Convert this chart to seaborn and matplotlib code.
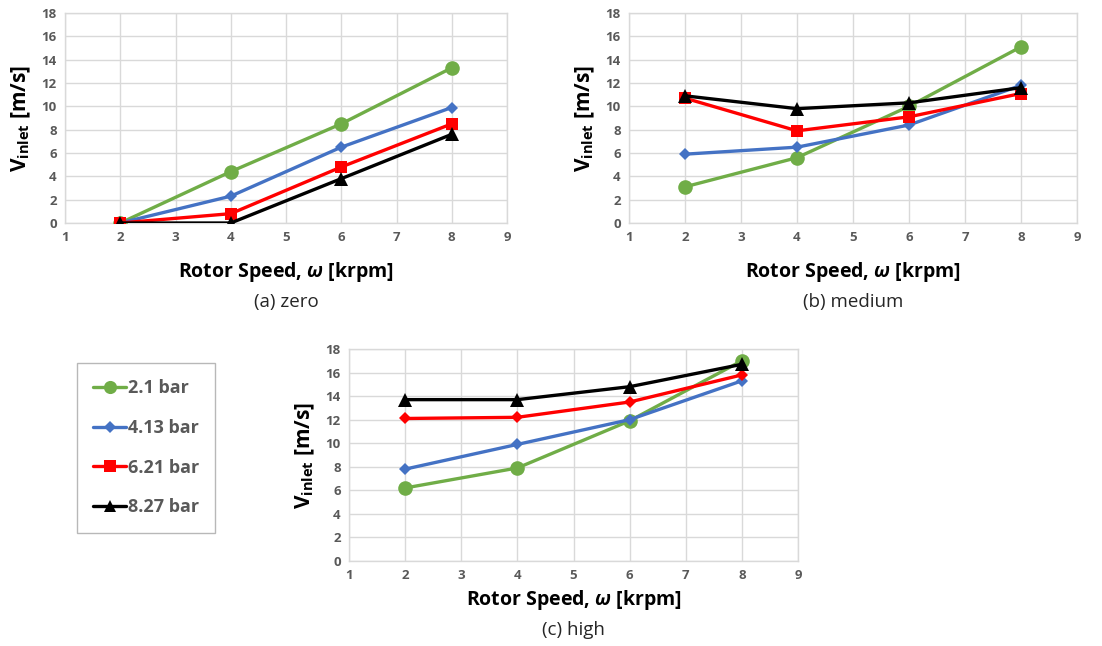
import matplotlib
matplotlib.use("Agg")
import matplotlib.pyplot as plt
import seaborn as sns
import pandas as pd
from matplotlib.lines import Line2D

sns.set_theme(style="white")
plt.rcParams['font.family'] = ['Open Sans', 'DejaVu Sans']
plt.rcParams['mathtext.fontset'] = 'custom'
plt.rcParams['mathtext.rm'] = 'Open Sans'
plt.rcParams['mathtext.bf'] = 'Open Sans:bold'
plt.rcParams['mathtext.it'] = 'Open Sans:italic'
plt.rcParams['mathtext.bfit'] = 'Open Sans:italic:bold'

speeds = [2, 4, 6, 8]
series_labels = ["2.1 bar", "4.13 bar", "6.21 bar", "8.27 bar"]

zero_21 = [0.0, 4.4, 8.5, 13.3]
zero_413 = [0.0, 2.3, 6.5, 9.9]
zero_621 = [0.0, 0.8, 4.8, 8.5]
zero_827 = [0.0, 0.0, 3.8, 7.6]

medium_21 = [3.1, 5.6, 10.0, 15.1]
medium_413 = [5.9, 6.5, 8.4, 11.8]
medium_621 = [10.7, 7.9, 9.1, 11.1]
medium_827 = [10.9, 9.8, 10.3, 11.6]

high_21 = [6.2, 7.9, 11.9, 17.0]
high_413 = [7.8, 9.9, 12.0, 15.3]
high_621 = [12.1, 12.2, 13.5, 15.8]
high_827 = [13.7, 13.7, 14.8, 16.7]

panel_titles = ["(a) zero", "(b) medium", "(c) high"]

colors = {"2.1 bar": "#70AD47", "4.13 bar": "#4472C4", "6.21 bar": "#FF0000", "8.27 bar": "#000000"}
markers_std = {"2.1 bar": "o", "4.13 bar": "D", "6.21 bar": "s", "8.27 bar": "^"}
markers_high = {"2.1 bar": "o", "4.13 bar": "D", "6.21 bar": "D", "8.27 bar": "^"}
msizes = {"o": 10.5, "D": 6.5, "s": 9, "^": 9.5}


def make_df(vals):
    rows = []
    for lab, v in zip(series_labels, vals):
        for s, y in zip(speeds, v):
            rows.append({"speed": s, "v": y, "series": lab})
    return pd.DataFrame(rows)


fig = plt.figure(figsize=(11.02, 6.46), dpi=100)
W, H = 1102, 646
boxes = [(65, 13, 507, 223), (629, 13, 1077, 223), (349, 349, 798, 561)]
datas = [
    [zero_21, zero_413, zero_621, zero_827],
    [medium_21, medium_413, medium_621, medium_827],
    [high_21, high_413, high_621, high_827],
]
xlabel_pads = [11, 11, 4]
caption_y = [302, 302, 630]

tick_color = "#595959"
grid_color = "#D9D9D9"

for i, ((x0, y0, x1, y1), vals, title) in enumerate(zip(boxes, datas, panel_titles)):
    ax = fig.add_axes([x0 / W, 1 - y1 / H, (x1 - x0) / W, (y1 - y0) / H])
    df = make_df(vals)
    mk = markers_high if i == 2 else markers_std
    for lab in series_labels:
        sub = df[df.series == lab]
        m = mk[lab]
        sns.lineplot(data=sub, x="speed", y="v", ax=ax, color=colors[lab],
                     marker=m, markersize=msizes[m], markeredgewidth=0,
                     linewidth=2.4, legend=False, zorder=3)
    ax.set_xlim(1, 9)
    ax.set_ylim(0, 18)
    ax.set_xticks(range(1, 10))
    ax.set_yticks(range(0, 19, 2))
    ax.grid(True, color=grid_color, linewidth=1)
    for sp in ax.spines.values():
        sp.set_color(grid_color)
        sp.set_linewidth(1)
    ax.tick_params(axis='both', length=0, labelsize=9.5, labelcolor=tick_color, pad=6)
    for t in ax.get_xticklabels() + ax.get_yticklabels():
        t.set_fontweight('bold')
    ax.set_xlabel(r"Rotor Speed, $\mathbfit{\omega}$ [krpm]", fontsize=14,
                  fontweight='bold', color='black', labelpad=xlabel_pads[i])
    ax.set_ylabel(r"$\mathbf{V}_{\mathbf{inlet}}$ [m/s]", fontsize=15,
                  fontweight='bold', color='black', labelpad=6)
    fig.text((x0 + x1) / 2 / W, 1 - caption_y[i] / H, title, ha='center', va='center',
             fontsize=13.5, color='#262626')

handles = []
for lab in series_labels:
    m = markers_std[lab]
    handles.append(Line2D([0], [0], color=colors[lab], marker=m,
                          markersize=msizes[m] * 0.9, markeredgewidth=0, linewidth=2.4))
leg = fig.legend(handles, series_labels, loc='upper left',
                 bbox_to_anchor=(77 / W, 1 - 363 / H), frameon=True,
                 fancybox=False, edgecolor='#A6A6A6', handlelength=1.8,
                 handletextpad=0.1, labelspacing=1.2, borderpad=0.9,
                 prop={'size': 13, 'weight': 'bold'}, borderaxespad=0)
for t in leg.get_texts():
    t.set_color(tick_color)
leg.get_frame().set_linewidth(1)

fig.savefig("out.png", dpi=100)
